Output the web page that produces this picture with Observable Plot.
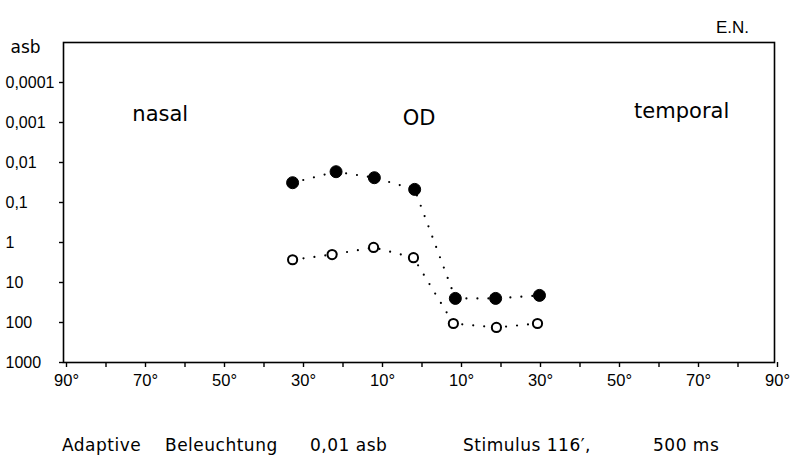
<!DOCTYPE html>
<html>
<head>
<meta charset="utf-8">
<script src="https://cdn.jsdelivr.net/npm/d3@7"></script>
<script src="https://cdn.jsdelivr.net/npm/@observablehq/plot@0.6"></script>
<style>
  html, body { margin: 0; padding: 0; background: #fff; }
  #wrap { width: 790px; height: 462px; position: relative; overflow: hidden; }
  #caption { position: relative; width: 790px; height: 52px; font-family: "DejaVu Sans", sans-serif; font-size: 17px; line-height: 17px; color: #000; }
  #caption span { position: absolute; top: 27px; white-space: pre; letter-spacing: 0.5px; }
  svg text.lettering { letter-spacing: 1px; font-weight: 200; }
</style>
</head>
<body>
<div id="wrap"><div id="chart"></div><div id="caption"></div></div>
<script>
// Angle ticks (degrees of visual field; negative = nasal, positive = temporal)
const angleTicks = [-90, -80, -70, -60, -50, -40, -30, -20, -10, 0, 10, 20, 30, 40, 50, 60, 70, 80, 90];
const angleLabelled = [-90, -70, -50, -30, -10, 10, 30, 50, 70, 90];

// Luminance ticks (asb), log scale, brighter downward
const asbTicks = [0.0001, 0.001, 0.01, 0.1, 1, 10, 100, 1000];
const asbTickLabels = ["0,0001", "0,001", "0,01", "0,1", "1", "10", "100", "1000"];

// Filled circles
const filledAngle = [-32, -21, -11.3, -1.1, 9.2, 19.4, 30.5];
const filledAsb = [0.032, 0.017, 0.024, 0.047, 25, 25, 21];

// Open circles
const openAngle = [-32, -22, -11.5, -1.4, 8.7, 19.6, 30];
const openAsb = [2.7, 2.0, 1.33, 2.4, 106, 133, 106];

// Region labels
const regionNames = ["nasal", "OD", "temporal"];
const regionAngle = [-65.5, 0, 66.5];
const regionAsb = [0.00063, 0.00078, 0.00053];

const filled = filledAngle.map((a, i) => ({angle: a, asb: filledAsb[i]}));
const open = openAngle.map((a, i) => ({angle: a, asb: openAsb[i]}));
const regions = regionNames.map((n, i) => ({name: n, angle: regionAngle[i], asb: regionAsb[i]}));

const chart = Plot.plot({
  width: 790,
  height: 410,
  marginLeft: 63,
  marginRight: 16,
  marginTop: 42,
  marginBottom: 48,
  style: {fontFamily: "'Liberation Sans', sans-serif", fontSize: "16px", background: "#fff", color: "#000"},
  x: {domain: [-90, 90]},
  y: {type: "log", domain: [1000, 0.00001]},
  marks: [
    Plot.frame({stroke: "#000", strokeWidth: 1.6}),
    Plot.axisX({
      ticks: angleTicks,
      tickSize: 5,
      tickPadding: 7,
      strokeWidth: 1.4,
      dx: 3,
      fontSize: 16.5,
      tickFormat: d => angleLabelled.includes(d) ? Math.abs(d) + "°" : "",
      label: null
    }),
    Plot.axisY({
      ticks: asbTicks,
      tickSize: 4,
      tickPadding: 54,
      strokeWidth: 1.4,
      textAnchor: "start",
      tickFormat: d => asbTickLabels[asbTicks.indexOf(d)],
      label: null
    }),
    Plot.line(filled, {x: "angle", y: "asb", stroke: "#000", strokeWidth: 2.2, strokeDasharray: "0 11", strokeLinecap: "round"}),
    Plot.line(open, {x: "angle", y: "asb", stroke: "#000", strokeWidth: 2.2, strokeDasharray: "0 11", strokeLinecap: "round"}),
    Plot.dot(filled, {x: "angle", y: "asb", r: 6, fill: "#000", stroke: "#000", strokeWidth: 1}),
    Plot.dot(open, {x: "angle", y: "asb", r: 4.6, fill: "#fff", stroke: "#000", strokeWidth: 2}),
    Plot.text(regions, {x: "angle", y: "asb", text: "name", fontSize: 21, fontFamily: "'DejaVu Sans', sans-serif", fill: "#000", className: "lettering"}),
    Plot.text(["asb"], {frameAnchor: "top-left", textAnchor: "start", dx: -53, dy: -2, fontSize: 17, fontFamily: "'DejaVu Sans', sans-serif", fill: "#000"}),
    Plot.text(["E.N."], {frameAnchor: "top-right", textAnchor: "middle", dx: -42, dy: -22, fontSize: 17, fill: "#000"})
  ]
});
document.getElementById("chart").appendChild(chart);

// Caption beneath the chart
const captionParts = ["Adaptive", "Beleuchtung", "0,01 asb", "Stimulus 116′,", "500 ms"];
const captionLeft = [62, 165, 310, 463, 653];
const cap = document.getElementById("caption");
captionParts.forEach((t, i) => {
  const s = document.createElement("span");
  s.textContent = t;
  s.style.left = captionLeft[i] + "px";
  cap.appendChild(s);
});
</script>
</body>
</html>
